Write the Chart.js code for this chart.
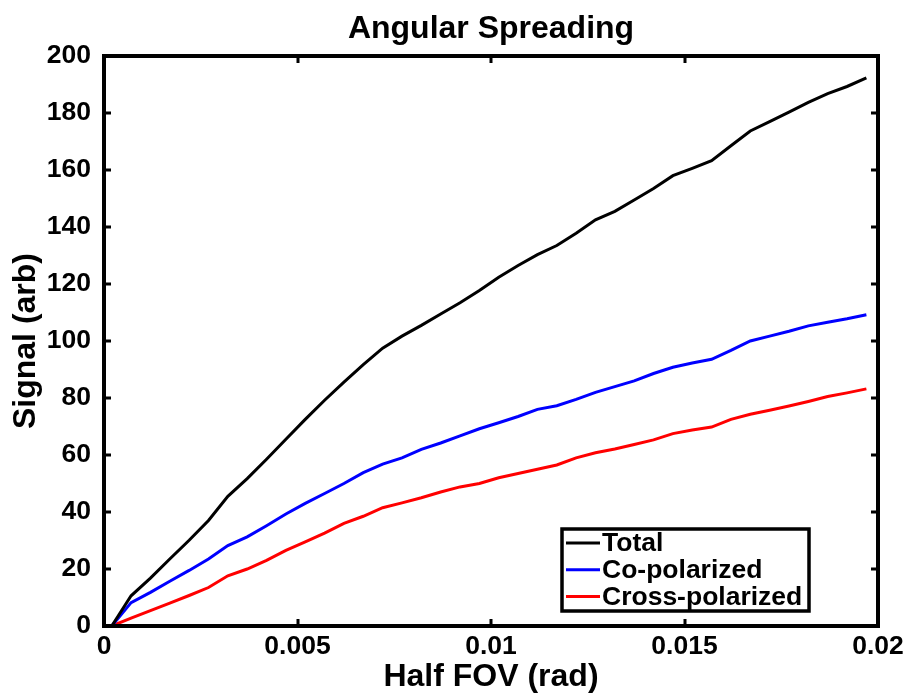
<!DOCTYPE html>
<html>
<head>
<meta charset="utf-8">
<script src="https://cdn.jsdelivr.net/npm/chart.js@4"></script>
<style>
html,body{margin:0;padding:0;background:#fff;}
#wrap{width:912px;height:694px;}
</style>
</head>
<body>
<div id="wrap"><canvas id="c" width="912" height="694"></canvas></div>
<script>
const xValues = [0.0002,0.0007,0.0012,0.0017,0.0022,0.0027,0.0032,0.0037,0.0042,0.0047,
  0.0052,0.0057,0.0062,0.0067,0.0072,0.0077,0.0082,0.0087,0.0092,0.0097,
  0.0102,0.0107,0.0112,0.0117,0.0122,0.0127,0.0132,0.0137,0.0142,0.0147,
  0.0152,0.0157,0.0162,0.0167,0.0172,0.0177,0.0182,0.0187,0.0192,0.0197];
const total = [0,10.6,16.8,23.5,30.1,37,45.5,51.7,58.5,65.5,
  72.5,79.2,85.6,91.7,97.5,101.7,105.5,109.5,113.4,117.7,
  122.4,126.5,130.3,133.5,137.8,142.5,145.5,149.5,153.5,158,
  160.6,163.3,168.5,173.7,177,180.3,183.7,186.8,189.3,192.3];
const coPolarized = [0,8.2,11.8,15.7,19.5,23.5,28.2,31.3,35.2,39.3,
  43,46.5,50,53.8,56.8,59,62,64.2,66.7,69.2,
  71.3,73.5,76,77.3,79.5,82,84,86,88.6,90.8,
  92.3,93.6,96.7,100,101.7,103.4,105.3,106.6,107.8,109.2];
const crossPolarized = [0,2.8,5.4,8.0,10.7,13.5,17.6,20,23,26.5,
  29.5,32.6,36,38.5,41.5,43.2,45,47,48.8,50,
  52,53.5,55,56.5,59,60.8,62.1,63.7,65.3,67.5,
  68.8,69.8,72.5,74.3,75.7,77.2,78.8,80.5,81.8,83.2];
const seriesNames = ['Total','Co-polarized','Cross-polarized'];
const xTicks = [0,0.005,0.01,0.015,0.02];
const xTickLabels = ['0','0.005','0.01','0.015','0.02'];
const yTicks = [0,20,40,60,80,100,120,140,160,180,200];

const FONT = "'Liberation Sans', Arial, Helvetica, sans-serif";

function pts(ys){ return xValues.map((x,i)=>({x:x,y:ys[i]})); }

const frame = {
  id:'frame',
  afterDatasetsDraw(chart){
    const {ctx, chartArea:a, scales} = chart;
    ctx.save();
    ctx.strokeStyle = '#000';
    ctx.lineWidth = 3;
    ctx.lineCap = 'butt';
    const tl = 7;
    ctx.beginPath();
    scales.x.ticks.forEach(t=>{
      const px = Math.round(scales.x.getPixelForValue(t.value));
      ctx.moveTo(px, a.bottom); ctx.lineTo(px, a.bottom - tl);
      ctx.moveTo(px, a.top); ctx.lineTo(px, a.top + tl);
    });
    scales.y.ticks.forEach(t=>{
      const py = Math.round(scales.y.getPixelForValue(t.value));
      ctx.moveTo(a.left, py); ctx.lineTo(a.left + tl, py);
      ctx.moveTo(a.right, py); ctx.lineTo(a.right - tl, py);
    });
    ctx.stroke();
    ctx.lineWidth = 4;
    ctx.strokeRect(a.left, a.top, a.right - a.left, a.bottom - a.top);

    // legend
    const bx = a.right - 316, by = a.bottom - 97, bw = 247, bh = 82;
    ctx.fillStyle = '#fff';
    ctx.fillRect(bx, by, bw, bh);
    ctx.lineWidth = 3.5;
    ctx.strokeRect(bx, by, bw, bh);
    ctx.font = 'bold 26.5px ' + FONT;
    ctx.textBaseline = 'middle';
    ctx.textAlign = 'left';
    chart.data.datasets.forEach((ds,i)=>{
      const ry = by + 14 + i*26.7;
      ctx.strokeStyle = ds.borderColor;
      ctx.lineWidth = 3;
      ctx.beginPath();
      ctx.moveTo(bx + 4, ry); ctx.lineTo(bx + 38, ry);
      ctx.stroke();
      ctx.fillStyle = '#000';
      ctx.fillText(ds.label, bx + 40, ry + 1);
    });
    ctx.restore();
  }
};

new Chart(document.getElementById('c'), {
  type:'line',
  data:{
    datasets:[
      {label:seriesNames[0], data:pts(total), borderColor:'#000000', backgroundColor:'#000000'},
      {label:seriesNames[1], data:pts(coPolarized), borderColor:'#0000ff', backgroundColor:'#0000ff'},
      {label:seriesNames[2], data:pts(crossPolarized), borderColor:'#ff0000', backgroundColor:'#ff0000'}
    ]
  },
  options:{
    responsive:false,
    animation:false,
    devicePixelRatio:1,
    datasets:{line:{borderWidth:3, pointRadius:0, tension:0, fill:false}},
    layout:{padding:{left:0, right:34, top:0, bottom:0}},
    plugins:{
      legend:{display:false},
      tooltip:{enabled:false},
      title:{display:false}
    },
    scales:{
      x:{type:'linear', min:0, max:0.02,
        afterBuildTicks(s){ s.ticks = xTicks.map(v=>({value:v})); },
        afterFit(s){ s.height = 68; },
        grid:{display:false, drawTicks:false},
        border:{display:false},
        ticks:{color:'#000', padding:5, maxRotation:0,
          font:{family:FONT, size:26.5, weight:'bold'},
          callback:(v)=>{ const i = xTicks.indexOf(v); return i>=0 ? xTickLabels[i] : ''; }},
        title:{display:true, text:'Half FOV (rad)', color:'#000',
          font:{family:FONT, size:32, weight:'bold', lineHeight:1},
          padding:{top:0, bottom:1}}
      },
      xTop:{type:'linear', position:'top', min:0, max:0.02,
        afterFit(s){ s.height = 56; },
        grid:{display:false, drawTicks:false},
        border:{display:false},
        ticks:{display:false},
        title:{display:true, text:'Angular Spreading', color:'#000',
          font:{family:FONT, size:32, weight:'bold', lineHeight:1},
          padding:{top:13, bottom:0}}
      },
      y:{type:'linear', min:0, max:200,
        afterBuildTicks(s){ s.ticks = yTicks.map(v=>({value:v})); },
        afterFit(s){ s.width = 104; },
        grid:{display:false, drawTicks:false},
        border:{display:false},
        ticks:{color:'#000', padding:13,
          font:{family:FONT, size:26.5, weight:'bold'}},
        title:{display:true, text:'Signal (arb)', color:'#000',
          font:{family:FONT, size:32, weight:'bold', lineHeight:1},
          padding:{top:10, bottom:0}}
      }
    }
  },
  plugins:[frame]
});
</script>
</body>
</html>
